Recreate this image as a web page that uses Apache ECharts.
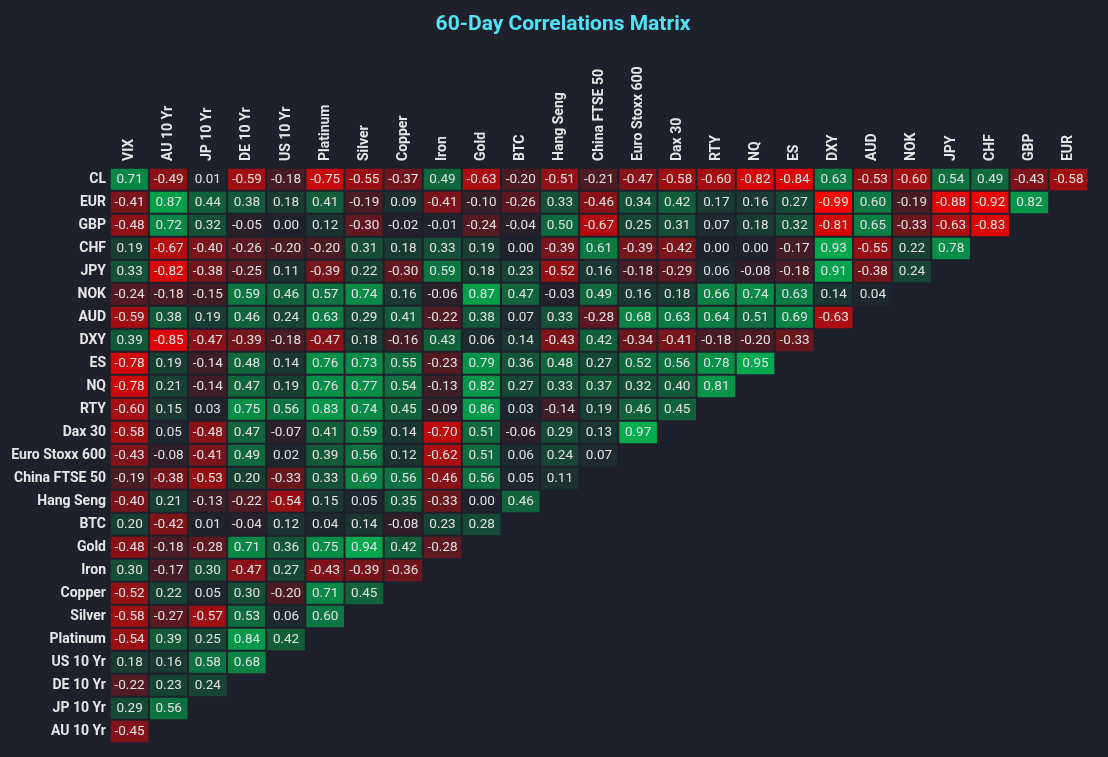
<!DOCTYPE html>
<html>
<head>
<meta charset="utf-8">
<script src="https://cdn.jsdelivr.net/npm/echarts@6/dist/echarts.min.js"></script>
<style>
html,body{margin:0;padding:0;background:#1e212b;}
#chart{width:1108px;height:757px;}
</style>
</head>
<body>
<div id="chart"></div>
<script>
const columns = ["VIX","AU 10 Yr","JP 10 Yr","DE 10 Yr","US 10 Yr","Platinum","Silver","Copper","Iron","Gold","BTC","Hang Seng","China FTSE 50","Euro Stoxx 600","Dax 30","RTY","NQ","ES","DXY","AUD","NOK","JPY","CHF","GBP","EUR"];
const rows = ["CL","EUR","GBP","CHF","JPY","NOK","AUD","DXY","ES","NQ","RTY","Dax 30","Euro Stoxx 600","China FTSE 50","Hang Seng","BTC","Gold","Iron","Copper","Silver","Platinum","US 10 Yr","DE 10 Yr","JP 10 Yr","AU 10 Yr"];

const CL = [0.71,-0.49,0.01,-0.59,-0.18,-0.75,-0.55,-0.37,0.49,-0.63,-0.20,-0.51,-0.21,-0.47,-0.58,-0.60,-0.82,-0.84,0.63,-0.53,-0.60,0.54,0.49,-0.43,-0.58];
const EUR = [-0.41,0.87,0.44,0.38,0.18,0.41,-0.19,0.09,-0.41,-0.10,-0.26,0.33,-0.46,0.34,0.42,0.17,0.16,0.27,-0.99,0.60,-0.19,-0.88,-0.92,0.82];
const GBP = [-0.48,0.72,0.32,-0.05,0.00,0.12,-0.30,-0.02,-0.01,-0.24,-0.04,0.50,-0.67,0.25,0.31,0.07,0.18,0.32,-0.81,0.65,-0.33,-0.63,-0.83];
const CHF = [0.19,-0.67,-0.40,-0.26,-0.20,-0.20,0.31,0.18,0.33,0.19,0.00,-0.39,0.61,-0.39,-0.42,0.00,0.00,-0.17,0.93,-0.55,0.22,0.78];
const JPY = [0.33,-0.82,-0.38,-0.25,0.11,-0.39,0.22,-0.30,0.59,0.18,0.23,-0.52,0.16,-0.18,-0.29,0.06,-0.08,-0.18,0.91,-0.38,0.24];
const NOK = [-0.24,-0.18,-0.15,0.59,0.46,0.57,0.74,0.16,-0.06,0.87,0.47,-0.03,0.49,0.16,0.18,0.66,0.74,0.63,0.14,0.04];
const AUD = [-0.59,0.38,0.19,0.46,0.24,0.63,0.29,0.41,-0.22,0.38,0.07,0.33,-0.28,0.68,0.63,0.64,0.51,0.69,-0.63];
const DXY = [0.39,-0.85,-0.47,-0.39,-0.18,-0.47,0.18,-0.16,0.43,0.06,0.14,-0.43,0.42,-0.34,-0.41,-0.18,-0.20,-0.33];
const ES = [-0.78,0.19,-0.14,0.48,0.14,0.76,0.73,0.55,-0.23,0.79,0.36,0.48,0.27,0.52,0.56,0.78,0.95];
const NQ = [-0.78,0.21,-0.14,0.47,0.19,0.76,0.77,0.54,-0.13,0.82,0.27,0.33,0.37,0.32,0.40,0.81];
const RTY = [-0.60,0.15,0.03,0.75,0.56,0.83,0.74,0.45,-0.09,0.86,0.03,-0.14,0.19,0.46,0.45];
const DAX30 = [-0.58,0.05,-0.48,0.47,-0.07,0.41,0.59,0.14,-0.70,0.51,-0.06,0.29,0.13,0.97];
const EUROSTOXX600 = [-0.43,-0.08,-0.41,0.49,0.02,0.39,0.56,0.12,-0.62,0.51,0.06,0.24,0.07];
const CHINAFTSE50 = [-0.19,-0.38,-0.53,0.20,-0.33,0.33,0.69,0.56,-0.46,0.56,0.05,0.11];
const HANGSENG = [-0.40,0.21,-0.13,-0.22,-0.54,0.15,0.05,0.35,-0.33,0.00,0.46];
const BTC = [0.20,-0.42,0.01,-0.04,0.12,0.04,0.14,-0.08,0.23,0.28];
const GOLD = [-0.48,-0.18,-0.28,0.71,0.36,0.75,0.94,0.42,-0.28];
const IRON = [0.30,-0.17,0.30,-0.47,0.27,-0.43,-0.39,-0.36];
const COPPER = [-0.52,0.22,0.05,0.30,-0.20,0.71,0.45];
const SILVER = [-0.58,-0.27,-0.57,0.53,0.06,0.60];
const PLATINUM = [-0.54,0.39,0.25,0.84,0.42];
const US10YR = [0.18,0.16,0.58,0.68];
const DE10YR = [-0.22,0.23,0.24];
const JP10YR = [0.29,0.56];
const AU10YR = [-0.45];

const rowValues = [CL,EUR,GBP,CHF,JPY,NOK,AUD,DXY,ES,NQ,RTY,DAX30,EUROSTOXX600,CHINAFTSE50,HANGSENG,BTC,GOLD,IRON,COPPER,SILVER,PLATINUM,US10YR,DE10YR,JP10YR,AU10YR];

const data = [];
rowValues.forEach((vals, r) => {
  vals.forEach((v, c) => data.push([c, r, v]));
});

const bg = '#1e212b';
const chart = echarts.init(document.getElementById('chart'));
chart.setOption({
  backgroundColor: bg,
  animation: false,
  title: {
    text: '60-Day Correlations Matrix',
    left: 558,
    textAlign: 'center',
    top: 9,
    textStyle: { color: '#4fe3f7', fontSize: 21, fontWeight: 'bold', fontFamily: 'Roboto' }
  },
  grid: { left: 110, right: 20, top: 168, bottom: 14, containLabel: false },
  xAxis: {
    type: 'category',
    data: columns,
    position: 'top',
    axisLine: { show: false },
    axisTick: { show: false },
    splitLine: { show: false },
    axisLabel: { rotate: -90, color: '#e6e6e6', fontSize: 14, fontWeight: 'bold', fontFamily: 'Roboto', margin: 7, interval: 0 }
  },
  yAxis: {
    type: 'category',
    data: rows,
    inverse: true,
    axisLine: { show: false },
    axisTick: { show: false },
    splitLine: { show: false },
    axisLabel: { color: '#e6e6e6', fontSize: 14, fontWeight: 'bold', fontFamily: 'Roboto', margin: 4, interval: 0 }
  },
  visualMap: {
    show: false,
    type: 'continuous',
    min: -1,
    max: 1,
    inRange: { color: ['#ff0000', '#1e222c', '#00b050'] }
  },
  series: [{
    type: 'heatmap',
    data: data,
    itemStyle: { borderColor: bg, borderWidth: 2 },
    label: {
      show: true,
      color: '#e2e2e2',
      fontSize: 13.5,
      fontFamily: 'Roboto',
      formatter: p => p.value[2].toFixed(2)
    },
    emphasis: { disabled: true }
  }]
});
</script>
</body>
</html>
